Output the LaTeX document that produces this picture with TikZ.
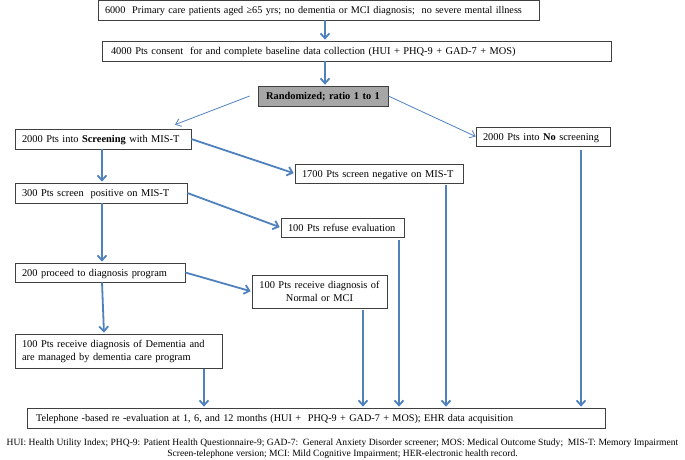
\documentclass[tikz,border=0pt]{standalone}
\usepackage{fontspec}
\setmainfont{Liberation Serif}
\usetikzlibrary{arrows.meta}
\definecolor{arrblue}{HTML}{4F81BD}
\begin{document}
\begin{tikzpicture}[x=1pt,y=-1pt,
  box/.style={draw=black!75, line width=0.7pt, inner xsep=7pt, inner ysep=0pt,
    font=\fontsize{10.4}{13}\selectfont, anchor=center, align=left},
  oneline/.style={text height=8pt, text depth=1pt},
  arr/.style={draw=arrblue, line width=1.8pt, -{Straight Barb[length=5pt,width=9pt]}, shorten >=1pt},
  thinarr/.style={draw=arrblue, line width=0.8pt, -{Straight Barb[length=5pt,width=8pt]}},
]
\useasboundingbox (0,0) rectangle (685,459);

\node[box, oneline, minimum width=441pt, text width=427pt, minimum height=20pt, font=\fontsize{10.2}{13}\selectfont] (B1) at (318.5,10)
  {\mbox{6000\ \ Primary care patients aged ≥65 yrs; no dementia or MCI diagnosis;\ \ no severe mental illness}};
\node[box, oneline, minimum width=509pt, text width=491pt, inner xsep=9pt, minimum height=20pt] (B2) at (356.5,51)
  {\mbox{4000 Pts consent\ \ for and complete baseline data collection (HUI + PHQ-9 + GAD-7 + MOS)}};
\node[box, oneline, fill=black!35, minimum width=130pt, text width=116pt, align=center, minimum height=20pt,
  font=\fontsize{10.4}{13}\selectfont\bfseries] (R) at (323,96) {Randomized; ratio 1 to 1};
\node[box, oneline, minimum width=176pt, text width=162pt, minimum height=20pt] (S) at (103,139)
  {\mbox{2000 Pts into \textbf{Screening} with MIS-T}};
\node[box, oneline, minimum width=134pt, text width=120pt, minimum height=19pt] (NS) at (543,136.5)
  {\mbox{2000 Pts into \textbf{No} screening}};
\node[box, oneline, minimum width=168pt, text width=154pt, minimum height=19pt] (N1) at (379,173.5)
  {\mbox{1700 Pts screen negative on MIS-T}};
\node[box, oneline, minimum width=172pt, text width=158pt, minimum height=20pt] (P) at (101,193)
  {\mbox{300 Pts screen\ \ positive on MIS-T}};
\node[box, oneline, minimum width=123pt, text width=109pt, minimum height=19pt] (RF) at (342.5,227.5)
  {\mbox{100 Pts refuse evaluation}};
\node[box, oneline, minimum width=170pt, text width=156pt, minimum height=19pt] (D) at (100,272.5)
  {\mbox{200 proceed to diagnosis program}};
\node[box, minimum width=135pt, text width=129pt, inner xsep=3pt, align=center, minimum height=33pt] (NM) at (319.5,291.5)
  {100 Pts receive diagnosis of\\Normal or MCI};
\node[box, minimum width=207pt, text width=193pt, minimum height=34pt] (DM) at (118.5,351)
  {100 Pts receive diagnosis of Dementia and\\are managed by dementia care program};
\node[box, oneline, minimum width=578pt, text width=560pt, inner xsep=9pt, minimum height=20pt, font=\fontsize{10.2}{13}\selectfont] (F) at (316,418)
  {\mbox{Telephone -based re -evaluation at 1, 6, and 12 months (HUI +\ \ PHQ-9 + GAD-7 + MOS); EHR data acquisition}};
\node[font=\fontsize{9.55}{10.5}\selectfont, align=center, inner sep=0pt] (FN) at (342.5,448.5)
  {HUI: Health Utility Index; PHQ-9: Patient Health Questionnaire-9; GAD-7:\ \ General Anxiety Disorder screener; MOS: Medical Outcome Study;\ \ MIS-T: Memory Impairment\\
   Screen-telephone version; MCI: Mild Cognitive Impairment; HER-electronic health record.};

\coordinate (c325) at (325,0);
\coordinate (c102) at (102,0);
\coordinate (c104) at (104,0);
\coordinate (c204) at (204,0);
\coordinate (c363) at (363,0);
\coordinate (c399) at (399,0);
\coordinate (c446) at (446,0);
\coordinate (c581) at (581,0);

\draw[arr] (B1.south -| c325) -- (B2.north -| c325);
\draw[arr] (B2.south -| c325) -- (R.north -| c325);
\draw[thinarr] ([xshift=-8pt]R.west) -- ([xshift=72pt,yshift=4pt]S.north);
\draw[thinarr] (R.east) -- (NS.west);
\draw[arr] (S.east) -- (N1.west);
\draw[arr] (S.south -| c102) -- (P.north -| c102);
\draw[arr] (P.east) -- (RF.west);
\draw[arr] (P.south -| c102) -- (D.north -| c102);
\draw[arr] (D.east) -- (NM.west);
\draw[arr] (D.south -| c102) -- (DM.north -| c104);
\draw[arr, shorten <=1pt] (DM.south -| c204) -- (F.north -| c204);
\draw[arr, shorten <=2pt] (NM.south -| c363) -- (F.north -| c363);
\draw[arr, shorten <=3pt] (RF.south -| c399) -- (F.north -| c399);
\draw[arr, shorten <=2pt] (N1.south -| c446) -- (F.north -| c446);
\draw[arr, shorten <=4pt] (NS.south -| c581) -- (F.north -| c581);
\end{tikzpicture}
\end{document}
